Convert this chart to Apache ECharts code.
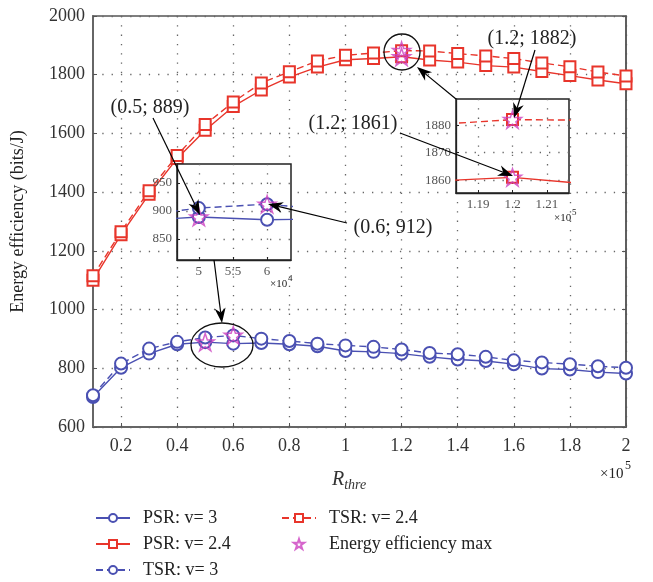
<!DOCTYPE html>
<html><head><meta charset="utf-8">
<script src="https://cdn.jsdelivr.net/npm/echarts@6/dist/echarts.min.js"></script>
<style>html,body{margin:0;padding:0;background:#fff}#c{width:653px;height:582px}</style>
</head><body><div id="c"></div>
<script>
// ---- data (x in units of 10^5) ----
const xValues = [0.1,0.2,0.3,0.4,0.5,0.6,0.7,0.8,0.9,1.0,1.1,1.2,1.3,1.4,1.5,1.6,1.7,1.8,1.9,2.0];
const psrV3  = [702,802,850,882,889,884,886,882,875,859,856,850,839,830,825,814,799,796,787,782];
const tsrV3  = [708,816,867,890,905,912,901,893,884,878,873,864,852,848,839,827,820,814,807,802];
const psrV24 = [1100,1255,1393,1515,1611,1692,1748,1792,1826,1851,1855,1861,1850,1843,1831,1826,1811,1797,1782,1769];
const tsrV24 = [1115,1265,1405,1525,1630,1707,1772,1810,1847,1866,1874,1882,1881,1872,1864,1855,1840,1827,1809,1796];
const maxX = [0.5, 0.6, 1.2, 1.2];
const maxY = [889, 912, 1861, 1882];
const xTicks = [0.2,0.4,0.6,0.8,1.0,1.2,1.4,1.6,1.8,2.0];
const inset1XTicks = [5, 5.5, 6];
const inset1XLabels = ['5', '5:5', '6'];
const inset1YTicks = [850, 900, 950];
const inset2XTicks = [1.19, 1.2, 1.21];
const inset2YTicks = [1860, 1870, 1880];
const names = ['PSR: v= 3', 'PSR: v= 2.4', 'TSR: v= 3', 'TSR: v= 2.4', 'Energy efficiency max'];
const annotations = ['(0.5; 889)', '(0.6; 912)', '(1.2; 1882)', '(1.2; 1861)'];

const FONT = '"Liberation Serif","DejaVu Serif",serif';
const BLUE = '#4a50b2', RED = '#e8352b', MAG = '#cc3fbf';
const STAR = 'path://M12,0 L14.8,8.6 L23.8,8.6 L16.5,14 L19.3,22.6 L12,17.3 L4.7,22.6 L7.5,14 L0.2,8.6 L9.2,8.6 Z';

const pairs = (xs, ys, k) => xs.map((x, i) => [+(x * k).toFixed(5), ys[i]]);
const plain = v => String(+v.toFixed(4));

const chart = echarts.init(document.getElementById('c'), null, {renderer: 'canvas'});

const dotted = {show: true, lineStyle: {color: '#666', width: 1.3, type: [1.3, 8]}};

function lineSeries(name, xs, ys, k, color, dashed, symbol, xi, yi, z) {
  return {
    type: 'line', name, data: pairs(xs, ys, k), xAxisIndex: xi, yAxisIndex: yi,
    symbol, symbolSize: symbol === 'emptyRect' ? 11 : 12, showAllSymbol: true,
    lineStyle: {color, width: 1.4, type: dashed ? [7, 4] : 'solid'},
    itemStyle: {color, borderColor: color, borderWidth: 1.2},
    z, clip: true, animation: false
  };
}
function starSeries(name, xs, ys, k, xi, yi, z) {
  return {
    type: 'scatter', name, data: pairs(xs, ys, k), xAxisIndex: xi, yAxisIndex: yi,
    symbol: STAR, symbolSize: 18, symbolKeepAspect: true,
    itemStyle: {color: 'rgba(0,0,0,0)', borderColor: MAG, borderWidth: 1.5},
    z, clip: true, animation: false
  };
}

function arrow(x1, y1, x2, y2) {
  const a = Math.atan2(y2 - y1, x2 - x1), c = Math.cos(a), s = Math.sin(a);
  const L = 15, W = 5.5;
  const bx = x2 - L * c, by = y2 - L * s;
  const nx = x2 - 0.7 * L * c, ny = y2 - 0.7 * L * s;
  return [
    {type: 'line', z: 100, shape: {x1, y1, x2: nx, y2: ny}, style: {stroke: '#000', lineWidth: 1.2}},
    {type: 'polygon', z: 100, shape: {points: [[x2, y2], [bx - W * s, by + W * c], [nx, ny], [bx + W * s, by - W * c]]}, style: {fill: '#000'}}
  ];
}
function txt(text, x, y, size, align) {
  return {type: 'text', z: 100, x, y, style: {text, font: size + 'px ' + FONT, fill: '#222', align: align || 'center', verticalAlign: 'middle'}};
}

const insetAxisLabel = {fontFamily: FONT, fontSize: 13, color: '#555', margin: 5};
const legendText = {fontFamily: FONT, fontSize: 18, color: '#222', padding: [0, 0, 0, 8]};

const option = {
  backgroundColor: '#fff',
  animation: false,
  grid: [
    {left: 93, top: 16, width: 533, height: 411, show: true, borderColor: '#555', borderWidth: 1.5, backgroundColor: '#fff', z: 0},
    {left: 177, top: 164, width: 114, height: 96, show: true, borderColor: '#222', borderWidth: 1.5, backgroundColor: '#fff', z: 10},
    {left: 456, top: 99, width: 113, height: 94, show: true, borderColor: '#222', borderWidth: 1.5, backgroundColor: '#fff', z: 10}
  ],
  xAxis: [
    {type: 'value', gridIndex: 0, min: 0.1, max: 2,
     axisLine: {show: true, onZero: false, lineStyle: {color: '#666', width: 2}},
     axisTick: {show: true, inside: true, length: 4, customValues: xTicks, lineStyle: {color: '#555'}},
     axisLabel: {customValues: xTicks, formatter: plain, fontFamily: FONT, fontSize: 18, color: '#333', margin: 10},
     splitLine: dotted},
    {type: 'value', gridIndex: 1, min: 4.68, max: 6.35, z: 11,
     axisLine: {show: true, onZero: false, lineStyle: {color: '#222', width: 1.3}},
     axisTick: {show: true, inside: true, length: 3, customValues: inset1XTicks, lineStyle: {color: '#222'}},
     axisLabel: Object.assign({customValues: inset1XTicks, formatter: v => inset1XLabels[inset1XTicks.indexOf(v)] ?? plain(v)}, insetAxisLabel),
     splitLine: dotted},
    {type: 'value', gridIndex: 2, min: 1.1836, max: 1.2164, z: 11,
     axisLine: {show: true, onZero: false, lineStyle: {color: '#222', width: 1.3}},
     axisTick: {show: true, inside: true, length: 3, customValues: inset2XTicks, lineStyle: {color: '#222'}},
     axisLabel: Object.assign({customValues: inset2XTicks, formatter: plain}, insetAxisLabel),
     splitLine: dotted}
  ],
  yAxis: [
    {type: 'value', gridIndex: 0, min: 600, max: 2000, interval: 200,
     name: 'Energy efficiency (bits/J)', nameLocation: 'middle', nameGap: 66,
     nameTextStyle: {fontFamily: FONT, fontSize: 18, color: '#222'},
     axisLine: {show: true, onZero: false, lineStyle: {color: '#666', width: 2}},
     axisTick: {show: true, inside: true, length: 4, lineStyle: {color: '#555'}},
     axisLabel: {formatter: plain, fontFamily: FONT, fontSize: 18, color: '#333', margin: 8},
     splitLine: dotted},
    {type: 'value', gridIndex: 0, min: 600, max: 2000, interval: 200, position: 'right',
     axisLine: {show: true, onZero: false, lineStyle: {color: '#555', width: 1.5}},
     axisTick: {show: true, inside: true, length: 4, lineStyle: {color: '#555'}},
     axisLabel: {show: false}, splitLine: {show: false}},
    {type: 'value', gridIndex: 1, min: 812, max: 984, z: 11,
     axisLine: {show: true, onZero: false, lineStyle: {color: '#222', width: 1.3}},
     axisTick: {show: true, inside: true, length: 3, customValues: inset1YTicks, lineStyle: {color: '#222'}},
     axisLabel: Object.assign({customValues: inset1YTicks, formatter: plain}, insetAxisLabel),
     splitLine: dotted},
    {type: 'value', gridIndex: 2, min: 1855.3, max: 1889.5, z: 11,
     axisLine: {show: true, onZero: false, lineStyle: {color: '#222', width: 1.3}},
     axisTick: {show: true, inside: true, length: 3, customValues: inset2YTicks, lineStyle: {color: '#222'}},
     axisLabel: Object.assign({customValues: inset2YTicks, formatter: plain}, insetAxisLabel),
     splitLine: dotted}
  ],
  legend: [
    {data: names.slice(0, 3), orient: 'vertical', left: 95, top: 509, padding: 0, itemGap: 8, itemWidth: 34, itemHeight: 10, textStyle: legendText},
    {data: [names[3], {name: names[4], icon: STAR}], orient: 'vertical', left: 281, top: 509, padding: 0, itemGap: 8, itemWidth: 34, itemHeight: 10, textStyle: legendText}
  ],
  series: [
    lineSeries(names[0], xValues, psrV3, 1, BLUE, false, 'emptyCircle', 0, 0, 2),
    lineSeries(names[1], xValues, psrV24, 1, RED, false, 'emptyRect', 0, 0, 2),
    lineSeries(names[2], xValues, tsrV3, 1, BLUE, true, 'emptyCircle', 0, 0, 2),
    lineSeries(names[3], xValues, tsrV24, 1, RED, true, 'emptyRect', 0, 0, 2),
    starSeries(names[4], maxX, maxY, 1, 0, 0, 3),
    // inset 1 (x in units of 10^4)
    lineSeries('i1a', xValues, psrV3, 10, BLUE, false, 'emptyCircle', 1, 2, 12),
    lineSeries('i1b', xValues, tsrV3, 10, BLUE, true, 'emptyCircle', 1, 2, 12),
    starSeries('i1s', maxX, maxY, 10, 1, 2, 13),
    // inset 2 (x in units of 10^5)
    lineSeries('i2a', xValues, psrV24, 1, RED, false, 'emptyRect', 2, 3, 12),
    lineSeries('i2b', xValues, tsrV24, 1, RED, true, 'emptyRect', 2, 3, 12),
    starSeries('i2s', maxX, maxY, 1, 2, 3, 13)
  ],
  graphic: [
    {type: 'ellipse', z: 100, shape: {cx: 222, cy: 345, rx: 31, ry: 22}, style: {stroke: '#111', fill: null, lineWidth: 1.3}},
    {type: 'circle', z: 100, shape: {cx: 402, cy: 52, r: 18}, style: {stroke: '#111', fill: null, lineWidth: 1.3}},
    ...arrow(153, 118, 200, 215),
    ...arrow(347, 223, 268, 204),
    ...arrow(214, 260, 222, 323),
    ...arrow(535, 50, 514, 118),
    ...arrow(400, 133, 513, 176),
    ...arrow(456, 99, 417, 67),
    txt(annotations[0], 150, 108, 20),
    txt(annotations[1], 393, 228, 20),
    txt(annotations[2], 532, 39, 20),
    txt(annotations[3], 353, 124, 20),
    {type: 'text', z: 100, left: 332, top: 470, style: {text: '{a|R}{b|thre}', rich: {
      a: {fontFamily: FONT, fontSize: 20, fontStyle: 'italic', fill: '#333'},
      b: {fontFamily: FONT, fontSize: 14, fontStyle: 'italic', fill: '#333', padding: [10, 0, 0, 0]}}}},
    txt('×10', 600, 474, 15, 'left'), txt('5', 625, 466, 12, 'left'),
    txt('×10', 270, 284, 11, 'left'), txt('4', 288, 279, 9, 'left'),
    txt('×10', 554, 218, 11, 'left'), txt('5', 572, 213, 9, 'left')
  ]
};
chart.setOption(option);
</script></body></html>
